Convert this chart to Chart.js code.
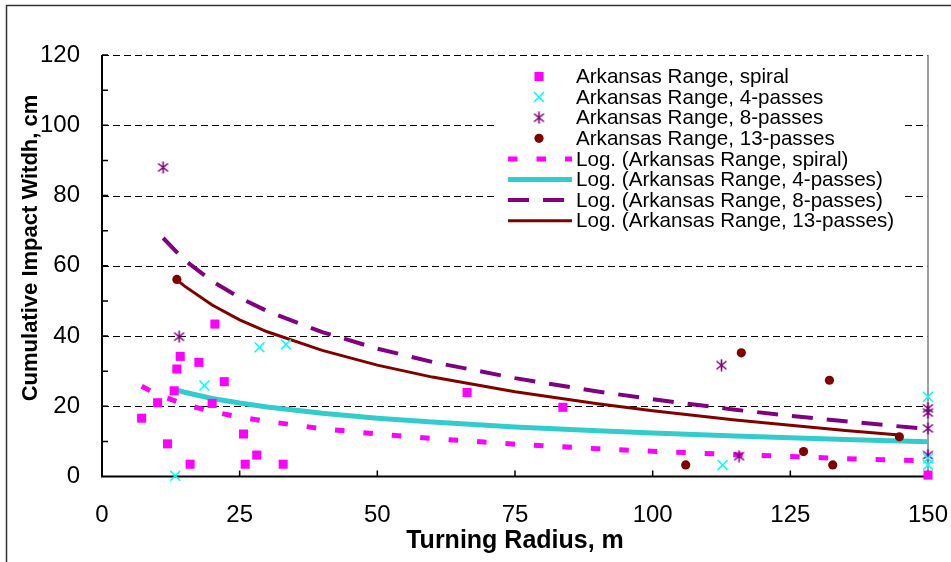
<!DOCTYPE html>
<html>
<head>
<meta charset="utf-8">
<script src="https://cdn.jsdelivr.net/npm/chart.js@4/dist/chart.umd.min.js"></script>
<style>
  html, body { margin: 0; padding: 0; background: #fff; }
  #wrap { width: 951px; height: 562px; }
</style>
</head>
<body>
<div id="wrap"><canvas id="grafico" width="951" height="562"></canvas></div>
<script>
// medições: raio de giro (m) x largura de impacto acumulada (cm)
const spiralX = [7.2, 10.1, 11.9, 13.1, 13.6, 14.2, 16.0, 17.6, 20.0, 20.5, 22.2, 25.7, 26.0, 28.1, 32.9, 66.3, 83.7, 150];
const spiralY = [16.6, 21.0, 9.3, 24.4, 30.6, 34.2, 3.5, 32.5, 20.8, 43.4, 27.0, 12.1, 3.5, 6.1, 3.5, 23.9, 19.7, 0.4];

const pass4X = [13.3, 18.6, 28.6, 33.4, 112.7, 150, 150, 150];
const pass4Y = [0.2, 25.9, 36.8, 37.6, 3.3, 22.7, 5.2, 3.3];

const pass8X = [11.1, 14.0, 112.5, 115.7, 150, 150, 150, 150];
const pass8Y = [88.0, 39.8, 31.7, 5.8, 19.4, 18.2, 13.7, 6.1];

const pass13X = [13.6, 106.0, 116.1, 127.4, 132.1, 132.7, 144.8];
const pass13Y = [56.1, 3.3, 35.2, 7.1, 27.4, 3.3, 11.3];

// linhas de tendência logarítmicas (lidas ao longo da curva)
const spiralTrendX = [7.2, 10, 15, 20, 25, 30, 40, 50, 60, 75, 90, 100, 115, 125, 135, 150];
const spiralTrendY = [25.7, 23.4, 20.5, 18.5, 16.9, 15.7, 13.6, 12.1, 10.8, 9.2, 7.9, 7.2, 6.2, 5.7, 5.1, 4.4];

const pass4TrendX = [13.3, 15, 20, 25, 30, 40, 50, 60, 75, 90, 100, 115, 125, 135, 150];
const pass4TrendY = [24.7, 24.0, 22.2, 20.9, 19.8, 18.0, 16.6, 15.5, 14.1, 13.0, 12.4, 11.5, 11.0, 10.5, 9.9];

const pass8TrendX = [11.1, 15, 20, 25, 30, 40, 50, 60, 75, 90, 100, 115, 125, 135, 150];
const pass8TrendY = [67.9, 61.6, 55.6, 50.9, 47.1, 41.1, 36.4, 32.6, 28.0, 24.2, 22.0, 19.0, 17.3, 15.7, 13.5];

const pass13TrendX = [13.6, 15, 20, 25, 30, 40, 50, 60, 75, 90, 100, 115, 125, 135, 144.8];
const pass13TrendY = [56.0, 54.2, 48.8, 44.6, 41.2, 35.9, 31.7, 28.3, 24.1, 20.7, 18.7, 16.1, 14.6, 13.1, 11.8];

const xTicks = [0, 25, 50, 75, 100, 125, 150];
const yTicks = [0, 20, 40, 60, 80, 100, 120];

function pontos(xs, ys) {
  return xs.map(function (x, i) { return { x: x, y: ys[i] }; });
}

// asterisco no estilo do Excel (vertical + X)
function criarAsterisco(cor) {
  const c = document.createElement("canvas");
  c.width = 13;
  c.height = 13;
  const g = c.getContext("2d");
  g.strokeStyle = cor;
  g.lineWidth = 1.6;
  g.beginPath();
  g.moveTo(6.5, 0.5); g.lineTo(6.5, 12.5);
  g.moveTo(1.5, 2.5); g.lineTo(11.5, 10.5);
  g.moveTo(1.5, 10.5); g.lineTo(11.5, 2.5);
  g.stroke();
  return c;
}
const asterisco = criarAsterisco("#800080");

function marcador(label, xs, ys, estilo, cor, raio, espessura) {
  return {
    label: label,
    data: pontos(xs, ys),
    showLine: false,
    pointStyle: estilo,
    pointRadius: raio,
    pointBackgroundColor: cor,
    pointBorderColor: cor,
    pointBorderWidth: espessura,
    clip: false,
  };
}

function tendencia(label, xs, ys, cor, largura, traco) {
  return {
    label: label,
    data: pontos(xs, ys),
    showLine: true,
    pointRadius: 0,
    borderColor: cor,
    borderWidth: largura,
    borderDash: traco,
    borderCapStyle: "butt",
    tension: 0,
    clip: false,
  };
}

const datasets = [
  marcador("Arkansas Range, spiral", spiralX, spiralY, "rect", "#FF00FF", 6.4, 0),
  marcador("Arkansas Range, 4-passes", pass4X, pass4Y, "crossRot", "#00FFFF", 7, 1.5),
  marcador("Arkansas Range, 8-passes", pass8X, pass8Y, asterisco, "#800080", 6, 1.5),
  marcador("Arkansas Range, 13-passes", pass13X, pass13Y, "circle", "#800000", 4.6, 0),
  tendencia("Log. (Arkansas Range, spiral)", spiralTrendX, spiralTrendY, "#FF00FF", 5, [9.5, 19]),
  tendencia("Log. (Arkansas Range, 4-passes)", pass4TrendX, pass4TrendY, "#33CCCC", 5, []),
  tendencia("Log. (Arkansas Range, 8-passes)", pass8TrendX, pass8TrendY, "#800080", 4, [21, 14]),
  tendencia("Log. (Arkansas Range, 13-passes)", pass13TrendX, pass13TrendY, "#800000", 3, []),
];

function desenharMarcador(ctx, ds, x, y) {
  const cor = ds.pointBorderColor;
  ctx.save();
  if (ds.pointStyle === "rect") {
    const s = ds.pointRadius * Math.SQRT1_2;
    ctx.fillStyle = cor;
    ctx.fillRect(x - s, y - s, 2 * s, 2 * s);
  } else if (ds.pointStyle === "crossRot") {
    const s = ds.pointRadius * Math.SQRT1_2;
    ctx.strokeStyle = cor;
    ctx.lineWidth = ds.pointBorderWidth;
    ctx.beginPath();
    ctx.moveTo(x - s, y - s); ctx.lineTo(x + s, y + s);
    ctx.moveTo(x - s, y + s); ctx.lineTo(x + s, y - s);
    ctx.stroke();
  } else if (ds.pointStyle === "circle") {
    ctx.fillStyle = cor;
    ctx.beginPath();
    ctx.arc(x, y, ds.pointRadius, 0, Math.PI * 2);
    ctx.fill();
  } else {
    ctx.drawImage(ds.pointStyle, x - ds.pointStyle.width / 2, y - ds.pointStyle.height / 2);
  }
  ctx.restore();
}

const moldura = {
  id: "moldura",
  beforeDraw: function (chart) {
    const ctx = chart.ctx;
    ctx.save();
    ctx.fillStyle = "#fff";
    ctx.fillRect(0, 0, chart.width, chart.height);
    ctx.strokeStyle = "#333";
    ctx.lineWidth = 1.5;
    ctx.strokeRect(6.5, 5.5, chart.width + 20, chart.height + 20);
    ctx.restore();
  },
  beforeDatasetsDraw: function (chart) {
    const ctx = chart.ctx;
    const a = chart.chartArea;
    const sx = chart.scales.x;
    const sy = chart.scales.y;
    ctx.save();
    // linhas de grade tracejadas
    ctx.strokeStyle = "#000";
    ctx.lineWidth = 1;
    ctx.setLineDash([7, 4]);
    yTicks.forEach(function (v) {
      if (v === 0) return;
      const py = Math.round(sy.getPixelForValue(v)) + 0.5;
      ctx.beginPath();
      ctx.moveTo(a.left, py);
      ctx.lineTo(a.right, py);
      ctx.stroke();
    });
    ctx.setLineDash([]);
    // borda direita da área do gráfico
    ctx.strokeStyle = "#808080";
    ctx.lineWidth = 1.5;
    ctx.beginPath();
    ctx.moveTo(a.right, a.top);
    ctx.lineTo(a.right, a.bottom);
    ctx.stroke();
    // eixos
    ctx.strokeStyle = "#000";
    ctx.lineWidth = 2;
    ctx.beginPath();
    ctx.moveTo(a.left, a.top);
    ctx.lineTo(a.left, a.bottom);
    ctx.lineTo(a.right, a.bottom);
    ctx.stroke();
    // marcas internas: a cada 10 no eixo y, a cada 25 no eixo x
    ctx.lineWidth = 1.5;
    ctx.beginPath();
    for (let v = 10; v <= 120; v += 10) {
      const py = sy.getPixelForValue(v);
      ctx.moveTo(a.left, py);
      ctx.lineTo(a.left + 6, py);
    }
    xTicks.forEach(function (v) {
      if (v === 0) return;
      const px = sx.getPixelForValue(v);
      ctx.moveTo(px, a.bottom);
      ctx.lineTo(px, a.bottom - 6);
    });
    ctx.stroke();
    ctx.restore();
  },
  afterDraw: function (chart) {
    const ctx = chart.ctx;
    const a = chart.chartArea;
    ctx.save();
    // títulos dos eixos
    ctx.fillStyle = "#000";
    ctx.font = "bold 25px 'Liberation Sans', Arial, sans-serif";
    ctx.textAlign = "center";
    ctx.textBaseline = "middle";
    ctx.fillText("Turning Radius, m", (a.left + a.right) / 2, 541);
    ctx.translate(31, 248);
    ctx.rotate(-Math.PI / 2);
    ctx.font = "bold 22px 'Liberation Sans', Arial, sans-serif";
    ctx.fillText("Cumulative Impact Witdh, cm", 0, 0);
    ctx.restore();

    // legenda
    ctx.save();
    ctx.fillStyle = "#fff";
    ctx.fillRect(497, 63, 406, 170);
    ctx.font = "20.6px 'Liberation Sans', Arial, sans-serif";
    ctx.textAlign = "left";
    ctx.textBaseline = "middle";
    chart.data.datasets.forEach(function (ds, i) {
      const y = 76.5 + i * 20.6;
      if (ds.showLine) {
        ctx.save();
        ctx.strokeStyle = ds.borderColor;
        ctx.lineWidth = ds.borderWidth;
        ctx.lineCap = "butt";
        ctx.setLineDash(ds.borderDash);
        ctx.beginPath();
        ctx.moveTo(508, y);
        ctx.lineTo(572, y);
        ctx.stroke();
        ctx.restore();
      } else {
        desenharMarcador(ctx, ds, 539, y);
      }
      ctx.fillStyle = "#000";
      ctx.fillText(ds.label, 576, y + 1);
    });
    ctx.restore();
  },
};

const fonteEixo = { family: "'Liberation Sans', Arial, sans-serif", size: 24 };

new Chart(document.getElementById("grafico"), {
  type: "scatter",
  data: { datasets: datasets },
  options: {
    responsive: false,
    animation: false,
    devicePixelRatio: 1,
    events: [],
    layout: { padding: { top: 55, right: 23, bottom: 0.5, left: 0 } },
    plugins: {
      legend: { display: false },
      tooltip: { enabled: false },
    },
    scales: {
      x: {
        type: "linear",
        min: 0,
        max: 150,
        grid: { display: false },
        border: { display: false },
        afterBuildTicks: function (s) { s.ticks = xTicks.map(function (v) { return { value: v }; }); },
        ticks: { color: "#000", font: fonteEixo, padding: 16, maxRotation: 0, autoSkip: false },
        afterFit: function (s) {
          s.height = 85;
          s.paddingLeft = 0;
          s.paddingRight = 0;
        },
      },
      y: {
        type: "linear",
        min: 0,
        max: 120,
        grid: { display: false },
        border: { display: false },
        afterBuildTicks: function (s) { s.ticks = yTicks.map(function (v) { return { value: v }; }); },
        ticks: { color: "#000", font: fonteEixo, padding: 14 },
        afterFit: function (s) {
          s.width = 102;
          s.paddingTop = 0;
          s.paddingBottom = 0;
        },
      },
    },
  },
  plugins: [moldura],
});
</script>
</body>
</html>
